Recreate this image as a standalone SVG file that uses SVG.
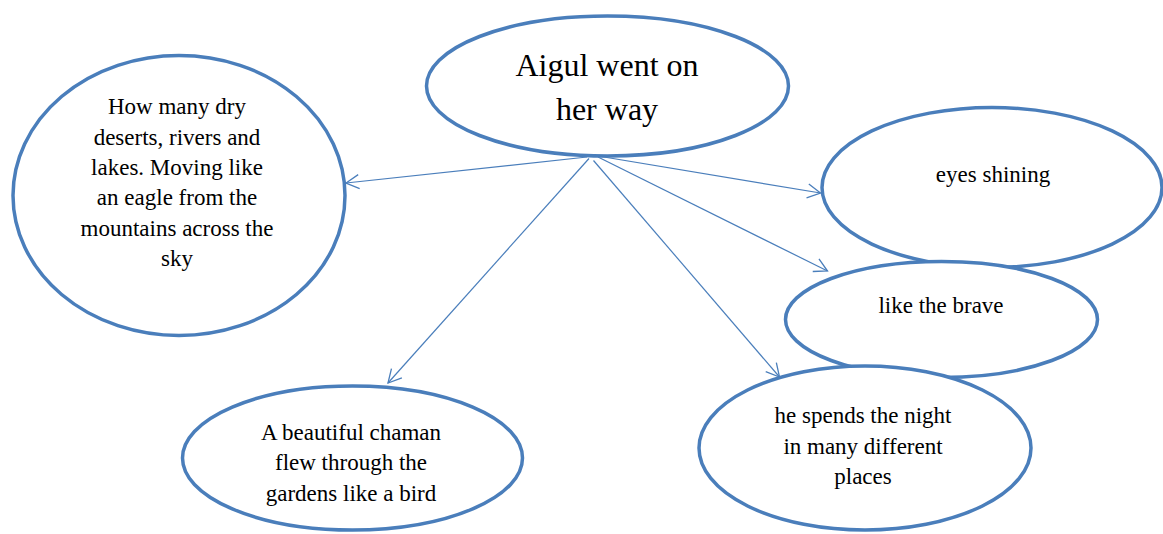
<svg xmlns="http://www.w3.org/2000/svg" width="1163" height="534" viewBox="0 0 1163 534">
<style>
.node ellipse{fill:#ffffff;stroke:#4a7ebb;stroke-width:3.5}
text{font-family:"Liberation Serif","Times New Roman",serif;fill:#000;text-anchor:middle}
.t{font-size:23px}
.big{font-size:32px}
.conn line{stroke:#4a7ebb;stroke-width:1.2;fill:none}
</style>
<defs>
<marker id="arr" markerUnits="userSpaceOnUse" markerWidth="20" markerHeight="20" viewBox="-16 -10 20 20" refX="0" refY="0" orient="auto">
<path d="M-13,-7 L0,0 L-13,7" fill="none" stroke="#4a7ebb" stroke-width="1.3"/>
</marker>
</defs>
<rect width="1163" height="534" fill="#ffffff"/>
<g id="n-left" class="node">
<ellipse cx="179" cy="195.5" rx="166" ry="140"/>
<text class="t" x="177" y="114">How many dry</text>
<text class="t" x="177" y="144.5">deserts, rivers and</text>
<text class="t" x="177" y="175">lakes. Moving like</text>
<text class="t" x="177" y="205">an eagle from the</text>
<text class="t" x="177" y="235.5">mountains across the</text>
<text class="t" x="177" y="266">sky</text>
</g>
<g id="n-eyes" class="node">
<ellipse cx="992" cy="187.5" rx="170" ry="80"/>
<text class="t" x="993" y="182">eyes shining</text>
</g>
<g id="n-brave" class="node">
<ellipse cx="941.5" cy="319.5" rx="156" ry="58"/>
<text class="t" x="941" y="313">like the brave</text>
</g>
<g id="n-night" class="node">
<ellipse cx="865" cy="448" rx="166" ry="82"/>
<text class="t" x="863" y="423">he spends the night</text>
<text class="t" x="863" y="453.5">in many different</text>
<text class="t" x="863" y="484">places</text>
</g>
<g id="n-chaman" class="node">
<ellipse cx="352.5" cy="458" rx="170" ry="72"/>
<text class="t" x="351" y="439.5">A beautiful chaman</text>
<text class="t" x="351" y="470">flew through the</text>
<text class="t" x="351" y="500.5">gardens like a bird</text>
</g>
<g id="n-top" class="node">
<ellipse cx="607.5" cy="86" rx="181" ry="70"/>
<text class="big" x="607" y="76">Aigul went on</text>
<text class="big" x="607" y="120">her way</text>
</g>
<g id="connectors" class="conn">
<line x1="587" y1="157" x2="346" y2="183" marker-end="url(#arr)"/>
<line x1="589" y1="158.5" x2="388" y2="383" marker-end="url(#arr)"/>
<line x1="598" y1="156" x2="820.5" y2="193" marker-end="url(#arr)"/>
<line x1="598" y1="157" x2="827.5" y2="271" marker-end="url(#arr)"/>
<line x1="593.5" y1="160.5" x2="779.5" y2="377" marker-end="url(#arr)"/>
</g>
</svg>
